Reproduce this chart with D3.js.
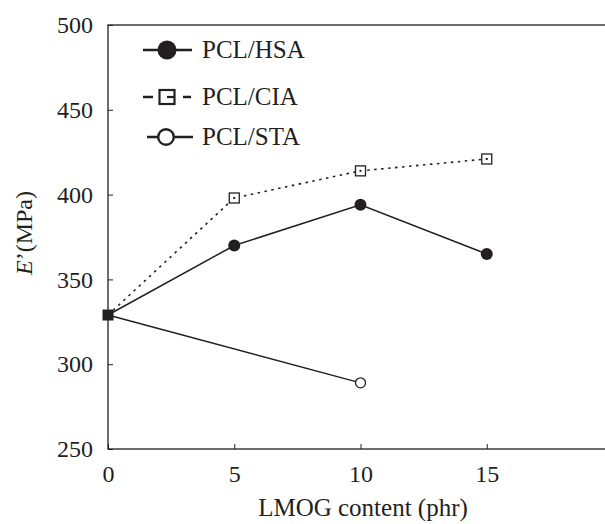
<!DOCTYPE html>
<html>
<head>
<meta charset="utf-8">
<script src="https://cdn.jsdelivr.net/npm/d3@7"></script>
<style>
  body { margin: 0; background: #fff; }
  svg text { font-family: "Liberation Serif", "DejaVu Serif", serif !important; fill: #231f20; }
</style>
</head>
<body>
<svg width="605" height="524"></svg>
<script>
// datos
const xHSA = [0, 5, 10, 15];
const yHSA = [329, 370, 394, 365];
const xCIA = [0, 5, 10, 15];
const yCIA = [329, 398, 414, 421];
const xSTA = [0, 10];
const ySTA = [329, 289];
const xTicks = [0, 5, 10, 15];
const yTicks = [250, 300, 350, 400, 450, 500];
const legendNames = ["PCL/HSA", "PCL/CIA", "PCL/STA"];

const svg = d3.select("svg");
const ink = "#231f20";
const serif = "'Liberation Serif', 'DejaVu Serif', serif";
const mLeft = 108, mTop = 25, mBottom = 449, mRight = 613;

const x = d3.scaleLinear().domain([0, 20]).range([mLeft, mRight]);
const y = d3.scaleLinear().domain([250, 500]).range([mBottom, mTop]);

// marco
svg.append("rect")
  .attr("x", mLeft).attr("y", mTop)
  .attr("width", mRight - mLeft).attr("height", mBottom - mTop)
  .attr("fill", "none").attr("stroke", ink).attr("stroke-width", 1.3);

// ejes con marcas hacia dentro
svg.append("g")
  .attr("transform", `translate(0,${mBottom})`)
  .call(d3.axisBottom(x).tickValues(xTicks).tickSize(-5).tickPadding(16).tickFormat(d3.format("d")))
  .attr("font-family", serif)
  .call(g => g.select(".domain").remove())
  .call(g => g.selectAll("line").attr("stroke", ink))
  .call(g => g.selectAll("text").style("font-size", "24px").attr("fill", ink));

svg.append("g")
  .attr("transform", `translate(${mLeft},0)`)
  .call(d3.axisLeft(y).tickValues(yTicks).tickSize(-5).tickPadding(15).tickFormat(d3.format("d")))
  .attr("font-family", serif)
  .call(g => g.select(".domain").remove())
  .call(g => g.selectAll("line").attr("stroke", ink))
  .call(g => g.selectAll("text").style("font-size", "24px").attr("fill", ink));

// titulos de ejes
svg.append("text")
  .attr("x", 363).attr("y", 516)
  .attr("text-anchor", "middle")
  .style("font-size", "25px")
  .text("LMOG content (phr)");

const yl = svg.append("text")
  .attr("transform", "translate(32,233) rotate(-90)")
  .attr("text-anchor", "middle")
  .style("font-size", "24px");
yl.append("tspan").style("font-style", "italic").text("E");
yl.append("tspan").text("’(MPa)");

const line = d3.line().x(d => x(d[0])).y(d => y(d[1]));
const pts = (xs, ys) => xs.map((v, i) => [v, ys[i]]);

// lineas
svg.append("path").datum(pts(xCIA, yCIA)).attr("d", line)
  .attr("fill", "none").attr("stroke", ink).attr("stroke-width", 1.6)
  .attr("stroke-dasharray", "2.5,4.5");
svg.append("path").datum(pts(xHSA, yHSA)).attr("d", line)
  .attr("fill", "none").attr("stroke", ink).attr("stroke-width", 1.5);
svg.append("path").datum(pts(xSTA, ySTA)).attr("d", line)
  .attr("fill", "none").attr("stroke", ink).attr("stroke-width", 1.5);

// marcadores
function square(g, cx, cy) {
  g.append("rect").attr("x", cx - 5).attr("y", cy - 5).attr("width", 10).attr("height", 10)
    .attr("fill", "#fff").attr("stroke", ink).attr("stroke-width", 1.3);
  g.append("rect").attr("x", cx - 1).attr("y", cy - 1).attr("width", 2).attr("height", 2).attr("fill", ink);
}
pts(xHSA, yHSA).slice(1).forEach(d =>
  svg.append("circle").attr("cx", x(d[0])).attr("cy", y(d[1])).attr("r", 6).attr("fill", ink));
pts(xCIA, yCIA).slice(1).forEach(d => square(svg, x(d[0]), y(d[1])));
pts(xSTA, ySTA).slice(1).forEach(d =>
  svg.append("circle").attr("cx", x(d[0])).attr("cy", y(d[1])).attr("r", 5).attr("fill", "#fff")
    .attr("stroke", ink).attr("stroke-width", 1.3));
// punto comun en 0
svg.append("rect").attr("x", x(0) - 5.5).attr("y", y(yHSA[0]) - 5.5)
  .attr("width", 11).attr("height", 11).attr("fill", ink);

// leyenda
const legY = [50, 97, 137];
legendNames.forEach((name, i) => {
  const g = svg.append("g");
  const cy = legY[i];
  if (i === 1) {
    g.append("line").attr("x1", 143).attr("x2", 153).attr("y1", cy).attr("y2", cy)
      .attr("stroke", ink).attr("stroke-width", 2.5);
    g.append("line").attr("x1", 183).attr("x2", 191).attr("y1", cy).attr("y2", cy)
      .attr("stroke", ink).attr("stroke-width", 2.5);
    g.append("rect").attr("x", 159.5).attr("y", cy - 7).attr("width", 15).attr("height", 14)
      .attr("fill", "#fff").attr("stroke", ink).attr("stroke-width", 2.2);
    g.append("line").attr("x1", 167).attr("x2", 175).attr("y1", cy).attr("y2", cy)
      .attr("stroke", ink).attr("stroke-width", 2.2);
  } else if (i === 0) {
    g.append("line").attr("x1", 143).attr("x2", 192).attr("y1", cy).attr("y2", cy)
      .attr("stroke", ink).attr("stroke-width", 2.5);
    g.append("circle").attr("cx", 167).attr("cy", cy).attr("r", 9.5).attr("fill", ink);
  } else {
    g.append("line").attr("x1", 147).attr("x2", 193).attr("y1", cy).attr("y2", cy)
      .attr("stroke", ink).attr("stroke-width", 2.5);
    g.append("circle").attr("cx", 166).attr("cy", cy).attr("r", 7.8).attr("fill", "#fff")
      .attr("stroke", ink).attr("stroke-width", 2.4);
  }
  g.append("text").attr("x", 202).attr("y", cy + 8).style("font-size", "25px").text(name);
});
</script>
</body>
</html>
